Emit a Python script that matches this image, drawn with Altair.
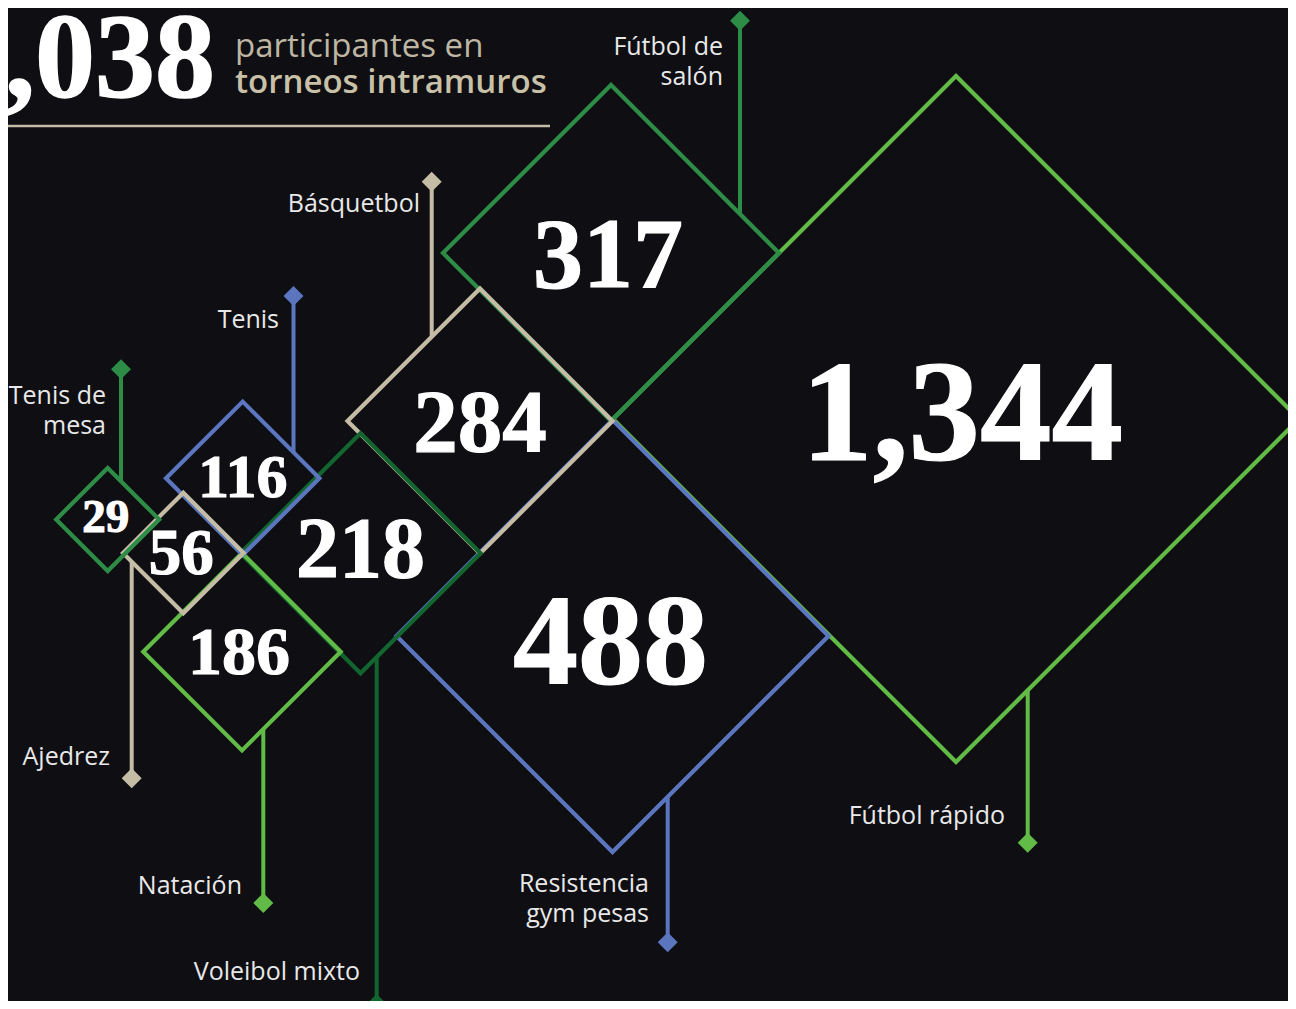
import altair as alt
import pandas as pd

# ---------------- data ----------------
sports = ["Fútbol rápido", "Resistencia gym pesas", "Fútbol de salón", "Básquetbol",
          "Voleibol mixto", "Natación", "Tenis", "Ajedrez", "Tenis de mesa"]
participants = [1344, 488, 317, 284, 218, 186, 116, 56, 29]
labels = ["Fútbol rápido", "Resistencia\ngym pesas", "Fútbol de\nsalón", "Básquetbol",
          "Voleibol mixto", "Natación", "Tenis", "Ajedrez", "Tenis de\nmesa"]
header_light = "participantes en"
header_bold = "torneos intramuros"

# ---------------- layout of the graphic (graphic grid units) ----------------
center_x = [956, 612.5, 611, 480, 360.5, 242, 242.7, 183.3, 107.7]
center_y = [419, 636, 253, 421, 553.3, 651.7, 478.3, 553, 519.5]
half_diag = [343, 216, 168, 132.5, 120, 98.7, 76.7, 60.3, 51.5]
number_dx = [6, -2, -3, 0, 0, -3, 0, -2, -2]
number_dy = [-2, 9, 4, 3, -2, 2, 0, 1, -2]
number_font = [143, 130, 100, 89, 86, 68, 62, 65, 47]
leader_x = [1027.7, 667.7, 740, 431.7, 376.7, 263.3, 293.5, 131.7, 121]
leader_end = [842.7, 942.3, 20.7, 181.7, 1004, 903, 296, 778.3, 369.3]
label_right = [1005, 649, 723, 420, 360, 242, 279, 110, 106]
label_base = [824, 892, 55, 212, 980, 894, 328, 765, 404]

palette = ["#62bb46", "#5b75be", "#2d8c46", "#c4bca5", "#12652f",
           "#62bb46", "#5b75be", "#c4bca5", "#2d8c46"]
BG = "#0e0e13"
BEIGE = "#c4bca5"

df = pd.DataFrame({
    "sport": sports, "value": participants, "label": labels,
    "cx": center_x, "cy": center_y, "half": half_diag,
    "lx": leader_x, "lend": leader_end, "lr": label_right, "ly": label_base,
    "fs": number_font,
})
df["nx"] = df["cx"] + pd.Series(number_dx)
df["ny"] = df["cy"] + pd.Series(number_dy)
sign = [-1 if e < c else 1 for e, c in zip(df["lend"], df["cy"])]
df["lstart"] = df["cy"] + pd.Series(sign) * (df["half"] - (df["lx"] - df["cx"]).abs())

srt = df.sort_values("value")
size_scale = alt.Scale(domain=list(srt["value"]), range=[4 * h * h for h in srt["half"]],
                       zero=False, nice=False)
font_scale = alt.Scale(domain=list(srt["value"]), range=list(srt["fs"]), zero=False, nice=False)

W, H = 1280, 993
xs = alt.Scale(domain=[8, 8 + W], nice=False, zero=False)
ys = alt.Scale(domain=[8, 8 + H], nice=False, zero=False, reverse=True)
col = alt.Color("sport:N", scale=alt.Scale(domain=sports, range=palette), legend=None)

base = alt.Chart(df)

leaders = base.mark_rule(strokeWidth=4).encode(
    x=alt.X("lx:Q", scale=xs, axis=None),
    y=alt.Y("lstart:Q", scale=ys, axis=None),
    y2="lend:Q",
    color=col,
)
markers = base.mark_point(shape="diamond", filled=True, size=400, opacity=1).encode(
    x=alt.X("lx:Q", scale=xs, axis=None),
    y=alt.Y("lend:Q", scale=ys, axis=None),
    color=col,
)
diamonds = base.mark_point(shape="diamond", filled=False, strokeWidth=4.2, opacity=1).encode(
    x=alt.X("cx:Q", scale=xs, axis=None),
    y=alt.Y("cy:Q", scale=ys, axis=None),
    size=alt.Size("value:Q", scale=size_scale, legend=None),
    color=col,
    order=alt.Order("value:Q", sort="descending"),
)
numbers = base.mark_text(font="Liberation Serif", fontWeight="bold", color="white",
                         stroke="white", strokeWidth=1.2,
                         align="center", baseline="middle").encode(
    x=alt.X("nx:Q", scale=xs, axis=None),
    y=alt.Y("ny:Q", scale=ys, axis=None),
    text=alt.Text("value:Q", format=","),
    size=alt.Size("value:Q", scale=font_scale, legend=None),
)
sport_labels = base.mark_text(font="Open Sans", fontSize=25, color="#e8e8e8", align="right",
                              baseline="alphabetic", lineBreak="\n", lineHeight=30).encode(
    x=alt.X("lr:Q", scale=xs, axis=None),
    y=alt.Y("ly:Q", scale=ys, axis=None),
    text="label:N",
)

total = sum(participants)
head = pd.DataFrame({
    "x": [215, 235, 235], "y": [97, 57, 93],
    "t": [f"{total:,}", header_light, header_bold],
    "kind": ["total", "light", "bold"],
})
total_txt = alt.Chart(head[head.kind == "total"]).mark_text(
    font="Liberation Serif", fontWeight="bold", fontSize=120, color="white",
    stroke="white", strokeWidth=1.5,
    align="right", baseline="alphabetic").encode(
    x=alt.X("x:Q", scale=xs, axis=None), y=alt.Y("y:Q", scale=ys, axis=None), text="t:N")
light_txt = alt.Chart(head[head.kind == "light"]).mark_text(
    font="Open Sans", fontSize=33, color="#bdb6a3", align="left", baseline="alphabetic").encode(
    x=alt.X("x:Q", scale=xs, axis=None), y=alt.Y("y:Q", scale=ys, axis=None), text="t:N")
bold_txt = alt.Chart(head[head.kind == "bold"]).mark_text(
    font="Open Sans", fontSize=33, fontWeight=600, color="#c8c0a7", align="left",
    baseline="alphabetic").encode(
    x=alt.X("x:Q", scale=xs, axis=None), y=alt.Y("y:Q", scale=ys, axis=None), text="t:N")
head_rule = alt.Chart(pd.DataFrame({"x": [0], "x2": [550], "y": [126]})).mark_rule(
    color=BEIGE, strokeWidth=2.5).encode(
    x=alt.X("x:Q", scale=xs, axis=None), x2="x2:Q", y=alt.Y("y:Q", scale=ys, axis=None))

chart = alt.layer(
    head_rule, total_txt, light_txt, bold_txt,
    leaders, markers, diamonds, numbers, sport_labels,
).resolve_scale(size="independent").properties(
    width=W, height=H, padding=0,
    autosize=alt.AutoSizeParams(type="none"),
).configure(background=BG).configure_view(stroke=None)

chart.save("out.html", embed_options={"renderer": "svg", "actions": False})
